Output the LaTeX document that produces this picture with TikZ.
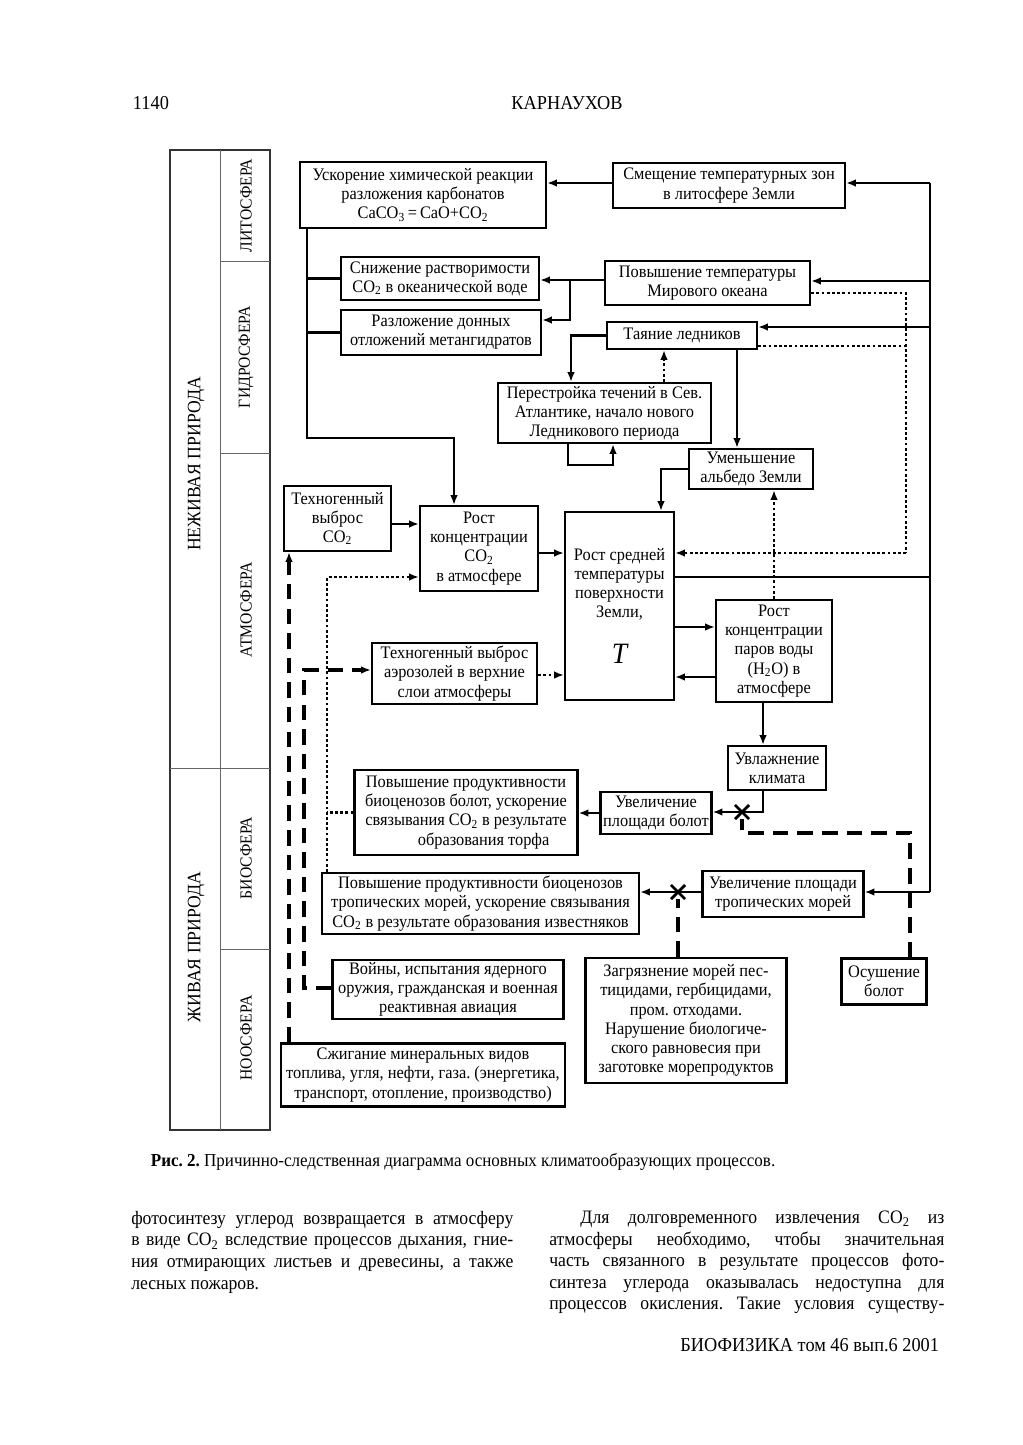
\documentclass[tikz,border=0pt]{standalone}
\usepackage{fontspec}
\setmainfont{Liberation Serif}[FakeStretch=0.93]
\usepackage{tikz}
\usetikzlibrary{arrows.meta,positioning,calc,shapes.misc}
\newcommand{\cotwo}{CO\textsubscript{2}}
\tikzset{sz/.style 2 args={minimum width=#1*0.025cm,minimum height=#2*0.025cm}}
\frenchspacing

\begin{document}
\begin{tikzpicture}[
  x=0.025cm,y=-0.025cm,
  bx/.style={draw,line width=1.6pt,align=center,inner sep=0pt,font=\fontsize{12.5}{13.6}\selectfont},
  ln/.style={line width=2.1pt},
  ar/.style={ln,-{Latex[length=7pt,width=5.5pt]}},
  dt/.style={line width=2pt,dash pattern=on 2pt off 1.7pt},
  dta/.style={dt,-{Latex[length=7pt,width=5.5pt]}},
  ds/.style={line width=2.4pt,dash pattern=on 11pt off 6.5pt},
  dsa/.style={ds,-{Latex[length=7pt,width=5.5pt]}},
  xm/.style={cross out,draw,line width=2pt,minimum size=8pt,inner sep=0pt},
  tb/.style={draw=black!80,line width=1.3pt},
  tl/.style={draw=black!60,line width=0.6pt},
  sp/.style={rotate=90,font=\fontsize{12}{12}\selectfont},
  pr/.style={rotate=90,font=\fontsize{13.5}{14}\selectfont},
  tx/.style={inner sep=0pt,font=\fontsize{13.5}{15.3}\selectfont}
]
\fill[white] (0,0) rectangle (1023,1445);
%--- page head ---
\node[anchor=west,font=\fontsize{14}{15}\selectfont] (pgno) at (128,103) {1140};
\node[font=\fontsize{14}{15}\selectfont] (auth) at (567,103) {КАРНАУХОВ};

%--- left table of spheres ---
\draw[tb] (170,150) rectangle (270,1130);
\draw[tl] (220,150) -- (220,1130);
\draw[tl] (220,261) -- (270,261);
\draw[tl] (220,453) -- (270,453);
\draw[tl] (170,768) -- (270,768);
\draw[tl] (220,949) -- (270,949);
\node[pr] (nezh) at (196,464) {НЕЖИВАЯ ПРИРОДА};
\node[pr] (zhiv) at (196,947) {ЖИВАЯ ПРИРОДА};
\node[sp] (lito) at (246,205.5) {ЛИТОСФЕРА};
\node[sp] (gidro) at (246,357) {ГИДРОСФЕРА};
\node[sp] (atmo) at (246,610) {АТМОСФЕРА};
\node[sp] (bio) at (246,858) {БИОСФЕРА};
\node[sp] (noo) at (246,1038) {НООСФЕРА};

%--- boxes ---
\node[bx,sz={246}{66}] (usk) at (423,195) {Ускорение химической реакции\\разложения карбонатов\\CaCO\textsubscript{3}\,=\,CaO+\cotwo};
\node[bx,sz={232}{45}] (smesh) at (729,185.5) {Смещение температурных зон\\в литосфере Земли};
\node[bx,sz={198}{43}] (snizh) at (440,278.5) {Снижение растворимости\\\cotwo{} в океанической воде};
\node[bx,sz={205}{44}] (okean) at (707.5,283) {Повышение температуры\\Мирового океана};
\node[bx,sz={200}{45}] (razl) at (441,332.5) {Разложение донных\\отложений метангидратов};
\node[bx,sz={150}{27}] (tayan) at (682,335.5) {Таяние ледников};
\node[bx,sz={213}{60}] (perestr) at (604.5,413) {Перестройка течений в Сев.\\Атлантике, начало нового\\Ледникового периода};
\node[bx,sz={124}{40}] (albedo) at (751,469) {Уменьшение\\альбедо Земли};
\node[bx,sz={107}{65}] (tekhco) at (337.5,518.5) {Техногенный\\выброс\\\cotwo};
\node[bx,sz={118}{85}] (co2) at (479,548.5) {Рост\\концентрации\\\cotwo\\в атмосфере};
\node[bx,sz={109}{188}] (temp) at (619.5,606) {Рост средней\\температуры\\поверхности\\Земли,\\[16pt]{\fontsize{21}{21}\selectfont\itshape T}};
\node[bx,sz={116}{102}] (vapor) at (774,651) {Рост\\концентрации\\паров воды\\(H\textsubscript{2}O) в\\атмосфере};
\node[bx,sz={98}{44}] (uvlazh) at (777,768) {Увлажнение\\климата};
\node[bx,sz={165}{61}] (aero) at (454.5,673.5) {Техногенный выброс\\аэрозолей в верхние\\слои атмосферы};
\node[bx,sz={223}{85}] (bolprod) at (466,812.5) {Повышение продуктивности\\биоценозов болот, ускорение\\связывания \cotwo{} в результате\\\hspace*{2em}образования торфа};
\node[bx,sz={111}{42}] (bolot) at (656,813) {Увеличение\\площади болот};
\node[bx,sz={317}{61}] (tropprod) at (480.5,903.5) {Повышение продуктивности биоценозов\\тропических морей, ускорение связывания\\\cotwo{} в результате образования известняков};
\node[bx,sz={161}{46}] (tropik) at (783,894) {Увеличение площади\\тропических морей};
\node[bx,sz={231}{59}] (voyny) at (448,989.5) {Войны, испытания ядерного\\оружия, гражданская и военная\\реактивная авиация};
\node[bx,sz={201}{125}] (zagr) at (686,1020.5) {Загрязнение морей пес-\\тицидами, гербицидами,\\пром. отходами.\\Нарушение биологиче-\\ского равновесия при\\заготовке морепродуктов};
\node[bx,sz={85}{46}] (osush) at (884,981.5) {Осушение\\болот};
\node[bx,sz={284}{63}] (szhig) at (423,1075) {Сжигание минеральных видов\\топлива, угля, нефти, газа. (энергетика,\\транспорт, отопление, производство)};

%--- right bus from T ---
\coordinate (bT) at (930,183);
\coordinate (bB) at (930,892);
\draw[ln] (bT) -- (bB);
\draw[ln] (temp.east |- 0,577) -- (bT |- 0,577);
\draw[ar] (bT) -- (smesh.east |- bT);
\draw[ar] (bT |- 0,281) -- (okean.east |- 0,281);
\draw[ar] (bT |- 0,327) -- (tayan.east |- 0,327);
\draw[ar] (bB) -- (tropik.east |- bB);
\draw[ar] (smesh.west |- bT) -- (usk.east |- bT);

%--- lithosphere / hydrosphere to CO2 ---
\coordinate (cL) at (307,438);
\coordinate (cR) at (454,438);
\draw[ar] (usk.south -| cL) -- (cL) -- (cR) -- (cR |- co2.north);
\draw[ln] (cL |- snizh.west) -- (snizh.west);
\draw[ln] (cL |- razl.west) -- (razl.west);
\coordinate (oJ) at (570,280);
\coordinate (oK) at (570,320);
\draw[ar] (okean.west |- oJ) -- (snizh.east |- oJ);
\draw[ar] (oJ) -- (oK) -- (razl.east |- oK);

%--- glaciers ---
\coordinate (tJ) at (571,335.5);
\coordinate (tA) at (737,351);
\coordinate (tB) at (664,383);
\draw[ar] (tayan.west) -- (tJ) -- (tJ |- perestr.north);
\draw[ar] (tA |- tayan.south) -- (tA |- albedo.north);
\draw[dta] (tB |- perestr.north) -- (tB |- tayan.south);
\coordinate (lp1) at (568,465);
\coordinate (lp2) at (613,465);
\draw[ar] (lp1 |- perestr.south) -- (lp1) -- (lp2) -- (lp2 |- perestr.south);
\coordinate (aJ) at (661,469);
\draw[ar] (albedo.west) -- (aJ) -- (aJ |- temp.north);
\draw[dta] (vapor.north) -- (vapor.north |- albedo.south);

%--- dotted feedback to T ---
\coordinate (dT) at (906,293);
\coordinate (dR) at (906,553);
\draw[dt] (okean.east |- dT) -- (dT) -- (dR);
\draw[dt] (tayan.east |- 0,346) -- (dT |- 0,346);
\draw[dta] (dR) -- (temp.east |- dR);

%--- atmosphere ---
\draw[ar] (tekhco.east |- 0,524) -- (co2.west |- 0,524);
\draw[ar] (co2.east |- dR) -- (temp.west |- dR);
\draw[ar] (temp.east |- 0,627) -- (vapor.west |- 0,627);
\draw[ar] (vapor.west |- 0,677) -- (temp.east |- 0,677);
\draw[dta] (aero.east |- 0,675) -- (temp.west |- 0,675);
\draw[ar] (vapor.south -| 763,0) -- (uvlazh.north -| 763,0);

%--- biosphere ---
\coordinate (uJ) at (763,812);
\draw[ar] (uvlazh.south -| uJ) -- (uJ) -- (bolot.east |- uJ);
\draw[ar] (bolot.west) -- (bolprod.east |- bolot.west);
\node[xm] (x1) at (742,812) {};
\coordinate (oD) at (910,833);
\draw[ds] (oD |- osush.north) -- (oD) -- (x1 |- oD) -- (x1.south);
\draw[ar] (tropik.west |- bB) -- (tropprod.east |- bB);
\node[xm] (x2) at (678,892) {};
\draw[ds] (x2 |- zagr.north) -- (x2.south);

\coordinate (dL) at (327,577);
\draw[dta] (tropprod.north -| dL) -- (dL) -- (co2.west |- dL);
\draw[dt] (bolprod.west) -- (bolprod.west -| dL);

%--- noosphere ---
\draw[dsa] (szhig.north -| 289,0) -- (tekhco.south -| 289,0);
\coordinate (wT) at (304,670);
\coordinate (wB) at (304,988);
\draw[dsa] (voyny.west |- wB) -- (wB) -- (wT) -- (aero.west |- wT);

%--- caption and text ---
\node[anchor=west,font=\fontsize{13}{14}\selectfont] (capt) at (146,1162) {\textbf{Рис. 2.} Причинно-следственная диаграмма основных климатообразующих процессов.};
\node[tx,anchor=north west,align=left] (colL) at (131,1211) {%
\makebox[9.55cm][s]{фотосинтезу углерод возвращается в атмосферу}\\
\makebox[9.55cm][s]{в виде \cotwo{} вследствие процессов дыхания, гние-}\\
\makebox[9.55cm][s]{ния отмирающих листьев и древесины, а также}\\
лесных пожаров.};
\node[tx,anchor=north west,align=left] (colR) at (549,1211) {%
\makebox[9.875cm][s]{\hspace*{0.78cm}Для долговременного извлечения \cotwo{} из}\\
\makebox[9.875cm][s]{атмосферы необходимо, чтобы значительная}\\
\makebox[9.875cm][s]{часть связанного в результате процессов фото-}\\
\makebox[9.875cm][s]{синтеза углерода оказывалась недоступна для}\\
\makebox[9.875cm][s]{процессов окисления. Такие условия существу-}};
\node[anchor=east,font=\fontsize{14}{15}\selectfont] (foot) at (944,1345) {БИОФИЗИКА том 46 вып.6 2001};
\end{tikzpicture}
\end{document}
